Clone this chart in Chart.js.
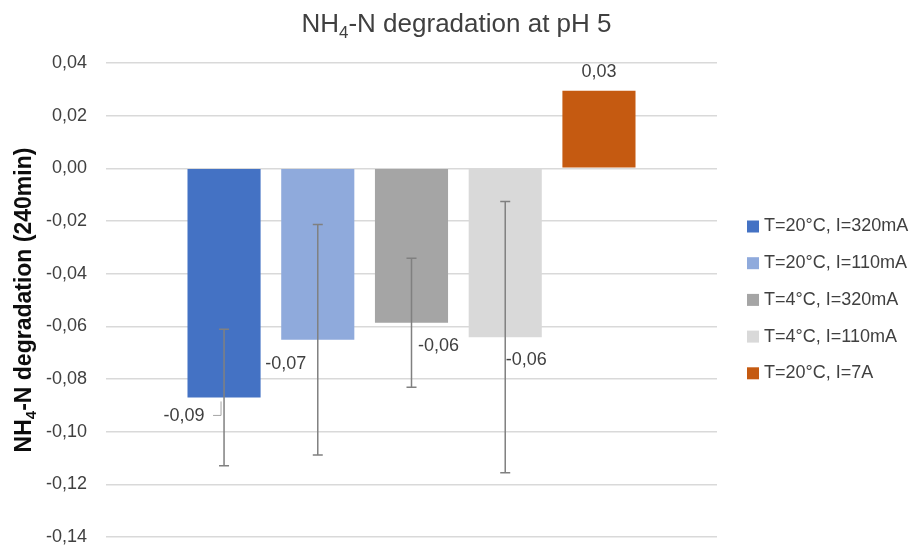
<!DOCTYPE html>
<html>
<head>
<meta charset="utf-8">
<title>NH4-N degradation at pH 5</title>
<script src="https://cdn.jsdelivr.net/npm/chart.js@4.4.1/dist/chart.umd.min.js"></script>
<style>
  html, body { margin: 0; padding: 0; background: #fff; }
  #wrap { width: 913px; height: 549px; }
</style>
</head>
<body>
<div id="wrap"><canvas id="chart" width="913" height="549"></canvas></div>
<script>
  // one category, five series (one bar each)
  const categories = [""];
  const seriesLabels = ["T=20°C, I=320mA", "T=20°C, I=110mA", "T=4°C, I=320mA", "T=4°C, I=110mA", "T=20°C, I=7A"];
  const seriesValues = [-0.087, -0.0651, -0.0586, -0.0641, 0.0295];
  const seriesErrors = [0.0259, 0.0438, 0.0245, 0.0515, 0];
  const seriesColors = ["#4472c4", "#8faadc", "#a5a5a5", "#d9d9d9", "#c55a11"];
  const yMin = -0.14;
  const yMax = 0.04;
  const yStep = 0.02;

  // manual nudges of the value labels, px from the bar end
  const labelNudge = [[-40, 19], [-32, 24], [27, 23], [21, 23], [0, -19]];

  const FAMILY = '"Liberation Sans", Arial, sans-serif';

  function font(size, weight) {
    return `${weight || "normal"} ${size}px ${FAMILY}`;
  }

  function fmt(v) {
    if (Math.abs(v) < 1e-9) v = 0;
    return Number(v).toFixed(2).replace(".", ",");
  }

  // text with subscript parts, centred on x
  function drawRich(ctx, parts, x, y, size, weight) {
    const subSize = size * 0.65;
    const widths = parts.map(([t, sub]) => {
      ctx.font = font(sub ? subSize : size, weight);
      return ctx.measureText(t).width;
    });
    let cx = x - widths.reduce((a, b) => a + b, 0) / 2;
    ctx.textAlign = "left";
    ctx.textBaseline = "alphabetic";
    parts.forEach(([t, sub], i) => {
      ctx.font = font(sub ? subSize : size, weight);
      ctx.fillText(t, cx, sub ? y + size * 0.22 : y);
      cx += widths[i];
    });
  }

  const decor = {
    id: "decor",
    afterDatasetsDraw(chart) {
      const ctx = chart.ctx;
      const y = chart.scales.y;
      ctx.save();

      // error bars
      ctx.strokeStyle = "#808080";
      ctx.lineWidth = 1.5;
      seriesValues.forEach((v, i) => {
        const err = seriesErrors[i];
        if (!err) return;
        const bar = chart.getDatasetMeta(i).data[0];
        const top = y.getPixelForValue(v + err);
        const bot = y.getPixelForValue(v - err);
        ctx.beginPath();
        ctx.moveTo(bar.x, top); ctx.lineTo(bar.x, bot);
        ctx.moveTo(bar.x - 5, top); ctx.lineTo(bar.x + 5, top);
        ctx.moveTo(bar.x - 5, bot); ctx.lineTo(bar.x + 5, bot);
        ctx.stroke();
      });

      // value labels
      ctx.fillStyle = "#404040";
      ctx.font = font(18);
      ctx.textAlign = "center";
      ctx.textBaseline = "middle";
      seriesValues.forEach((v, i) => {
        const bar = chart.getDatasetMeta(i).data[0];
        const [dx, dy] = labelNudge[i];
        ctx.fillText(fmt(v), bar.x + dx, bar.y + dy);
      });

      // leader line for the first label
      const b0 = chart.getDatasetMeta(0).data[0];
      ctx.strokeStyle = "#a6a6a6";
      ctx.lineWidth = 1;
      ctx.beginPath();
      ctx.moveTo(b0.x - 11, b0.y + 18);
      ctx.lineTo(b0.x - 3, b0.y + 18);
      ctx.lineTo(b0.x - 3, b0.y + 4);
      ctx.stroke();
      ctx.restore();
    },
    afterDraw(chart) {
      const ctx = chart.ctx;
      const area = chart.chartArea;
      ctx.save();

      // chart title
      ctx.fillStyle = "#404040";
      drawRich(ctx, [["NH", false], ["4", true], ["-N degradation at pH 5", false]], chart.width / 2, 32, 26);

      // y axis title
      ctx.save();
      ctx.translate(31, (area.top + area.bottom) / 2);
      ctx.rotate(-Math.PI / 2);
      ctx.fillStyle = "#0d0d0d";
      drawRich(ctx, [["NH", false], ["4", true], ["-N degradation (240min)", false]], 0, 0, 23, "bold");
      ctx.restore();

      // legend
      ctx.font = font(18);
      ctx.textAlign = "left";
      ctx.textBaseline = "middle";
      seriesLabels.forEach((label, i) => {
        const cy = 226.5 + i * 36.7;
        ctx.fillStyle = seriesColors[i];
        ctx.fillRect(747, cy - 6, 12, 12);
        ctx.fillStyle = "#404040";
        ctx.fillText(label, 764, cy);
      });
      ctx.restore();
    },
  };

  new Chart(document.getElementById("chart"), {
    type: "bar",
    data: {
      labels: categories,
      datasets: seriesLabels.map((label, i) => ({
        label,
        data: [seriesValues[i]],
        backgroundColor: seriesColors[i],
        borderWidth: 0,
        categoryPercentage: 0.767,
        barPercentage: 0.78,
      })),
    },
    options: {
      responsive: false,
      animation: false,
      layout: { padding: { top: 63, right: 196, bottom: 12, left: 0 } },
      plugins: {
        legend: { display: false },
        title: { display: false },
        tooltip: { enabled: false },
      },
      scales: {
        x: { display: false },
        y: {
          min: yMin,
          max: yMax,
          afterFit(scale) {
            scale.width = 106;
            // plot area edges come from layout.padding only
            scale.paddingTop = 0;
            scale.paddingBottom = 0;
          },
          ticks: {
            stepSize: yStep,
            padding: 19,
            color: "#404040",
            font: { family: FAMILY, size: 18 },
            callback: (v) => fmt(v),
          },
          grid: { color: "#d9d9d9", lineWidth: 1.5, drawTicks: false },
          border: { display: false },
        },
      },
    },
    plugins: [decor],
  });
</script>
</body>
</html>
